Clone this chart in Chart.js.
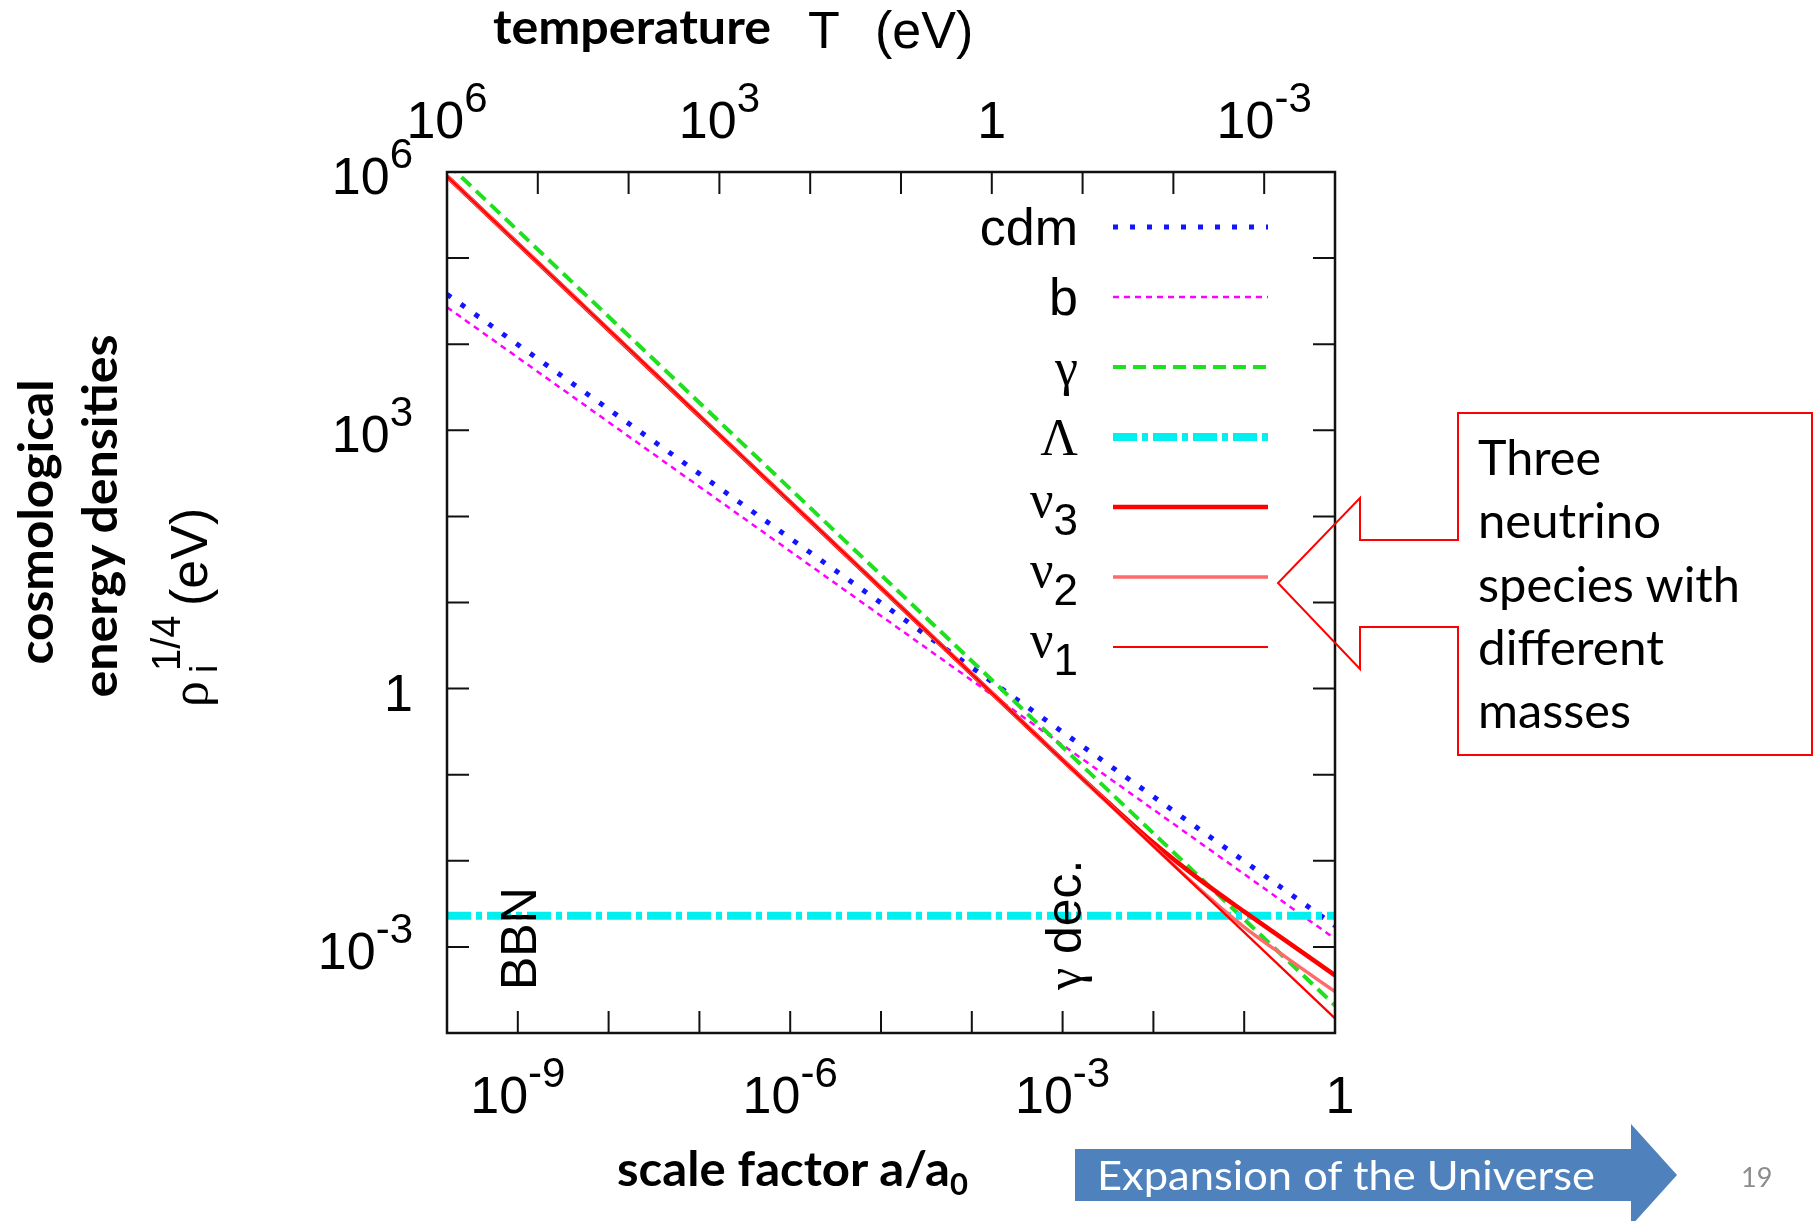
<!DOCTYPE html>
<html>
    <head>
        <title>Cosmological energy densities</title>
        <meta charset="UTF-8">
        <script src="https://cdn.jsdelivr.net/npm/chart.js@4.4.1/dist/chart.umd.min.js"></script>
        <style>
            body { margin: 0; background: #fff; }
            #page { position: relative; width: 1820px; height: 1221px; overflow: hidden; }
            #densityChart, #overlay { position: absolute; left: 0; top: 0; }
        </style>
    </head>
    <body>
        <div id="page">
            <canvas id="densityChart" width="1820" height="1221"></canvas>
            <svg id="overlay" width="1820" height="1221">
                <!-- top axis title -->
                <text x="493" y="44" font-family="Lato" font-weight="700" font-size="47" textLength="278" lengthAdjust="spacingAndGlyphs">temperature</text>
                <text x="808" y="48" font-family="Liberation Sans" font-size="52">T</text>
                <text x="875" y="48" font-family="Liberation Sans" font-size="52">(eV)</text>

                <!-- left axis title -->
                <text transform="translate(53,522) rotate(-90)" text-anchor="middle" font-family="Lato" font-weight="700" font-size="47" textLength="285" lengthAdjust="spacingAndGlyphs">cosmological</text>
                <text transform="translate(117,516) rotate(-90)" text-anchor="middle" font-family="Lato" font-weight="700" font-size="47" textLength="363" lengthAdjust="spacingAndGlyphs">energy densities</text>
                <text transform="translate(207,707) rotate(-90)" font-family="Liberation Sans" font-size="52">
                    <tspan x="0" y="0" font-family="Liberation Serif">ρ</tspan><tspan x="34" y="10" font-size="38">i</tspan><tspan x="36" y="-27" font-size="40">1/4</tspan><tspan x="101" y="0">(eV)</tspan>
                </text>

                <!-- bottom axis title -->
                <text x="617" y="1186" font-family="Lato" font-weight="700" font-size="47"><tspan textLength="333" lengthAdjust="spacingAndGlyphs">scale factor a/a</tspan><tspan font-size="31" dy="9">0</tspan></text>

                <!-- expansion arrow -->
                <polygon points="1075,1149 1631,1149 1631,1124 1677,1175 1631,1226 1631,1201 1075,1201" fill="#4f81bd"/>
                <text x="1097" y="1190" font-family="Lato" font-size="41" fill="#fff" textLength="498" lengthAdjust="spacingAndGlyphs">Expansion of the Universe</text>
                <text x="1741" y="1187" font-family="Lato" font-size="27" fill="#8c8c8c">19</text>

                <!-- neutrino callout -->
                <polygon points="1458,413 1812,413 1812,755 1458,755 1458,627 1360,627 1360,669 1278,583 1360,498 1360,540 1458,540" fill="none" stroke="#ff0000" stroke-width="2"/>
                <g font-family="Lato" font-size="48">
                    <text x="1478" y="475" textLength="123" lengthAdjust="spacingAndGlyphs">Three</text>
                    <text x="1478" y="538" textLength="183" lengthAdjust="spacingAndGlyphs">neutrino</text>
                    <text x="1478" y="602" textLength="262" lengthAdjust="spacingAndGlyphs">species with</text>
                    <text x="1478" y="665" textLength="186" lengthAdjust="spacingAndGlyphs">different</text>
                    <text x="1478" y="728" textLength="153" lengthAdjust="spacingAndGlyphs">masses</text>
                </g>
            </svg>
        </div>

        <script>
            // scale factor a/a0 at the plot edges and along the neutrino curves
            var aEdges = [1.66e-10, 1];
            var aNu = [1.66e-10, 1e-3, 3.16e-3, 1e-2, 3.16e-2, 0.1, 0.316, 1];

            // rho_i^(1/4) in eV
            var cdmRho = [3.8e4, 1.76e-3];
            var baryonRho = [2.69e4, 1.245e-3];
            var photonRho = [1.26e6, 2.09e-4];
            var lambdaRho = [2.3e-3, 2.3e-3];
            var nu3Rho = [8.91e5, 0.148, 0.0479, 0.0162, 0.00617, 0.00257, 0.00110, 4.68e-4];
            var nu2Rho = [8.91e5, 0.148, 0.0468, 0.0148, 0.00479, 0.00170, 7.08e-4, 3.02e-4];
            var nu1Rho = [8.91e5, 1.48e-4];

            var seriesNames = ['cdm', 'b', 'γ', 'Λ', 'ν3', 'ν2', 'ν1'];

            // axes
            var rhoRange = [1e-4, 1e6];
            var tempRange = [1.66e-4, 1e6];
            var rhoTicks = [1e-4, 1e-3, 1e-2, 1e-1, 1, 1e1, 1e2, 1e3, 1e4, 1e5, 1e6];
            var rhoLabels = [1e-3, 1, 1e3, 1e6];
            var aTicks = [1e-9, 1e-8, 1e-7, 1e-6, 1e-5, 1e-4, 1e-3, 1e-2, 1e-1, 1];
            var aLabels = [1e-9, 1e-6, 1e-3, 1];
            var tempTicks = [1e6, 1e5, 1e4, 1e3, 1e2, 1e1, 1, 1e-1, 1e-2, 1e-3];
            var tempLabels = [1e6, 1e3, 1, 1e-3];

            // events marked inside the plot
            var eventNames = ['BBN', 'γ dec.'];
            var eventScale = [1e-9, 1e-3];

            var SANS = '"Liberation Sans"';
            var SERIF = '"Liberation Serif"';

            function points(xs, ys) {
                return xs.map(function (x, i) {
                    return {x: x, y: ys[i]};
                });
            }

            function drawPower(ctx, value, x, y, align) {
                var e = Math.round(Math.log10(value));
                var base = e === 0 ? '1' : '10';
                var sup = e === 0 ? '' : String(e);
                ctx.font = '52px ' + SANS;
                var wBase = ctx.measureText(base).width;
                ctx.font = '42px ' + SANS;
                var wSup = sup ? ctx.measureText(sup).width : 0;
                var x0 = align === 'right' ? x - wBase - wSup : x - (wBase + wSup) / 2;
                ctx.font = '52px ' + SANS;
                ctx.fillText(base, x0, y);
                if (sup) {
                    ctx.font = '42px ' + SANS;
                    ctx.fillText(sup, x0 + wBase, y - 26);
                }
            }

            function drawLegendLabel(ctx, name, xRight, yMid) {
                var greek = /[γΛν]/.test(name.charAt(0));
                var sub = greek && name.length > 1 ? name.slice(1) : '';
                var head = sub ? name.charAt(0) : name;
                ctx.font = '44px ' + SANS;
                var wSub = sub ? ctx.measureText(sub).width : 0;
                ctx.font = '52px ' + (greek ? SERIF : SANS);
                var wHead = ctx.measureText(head).width;
                if (sub) {
                    ctx.fillText(head, xRight - wSub - wHead, yMid + 10);
                    ctx.font = '44px ' + SANS;
                    ctx.fillText(sub, xRight - wSub, yMid + 28);
                } else {
                    ctx.fillText(head, xRight - wHead, yMid + 18);
                }
            }

            // gnuplot look: frame, inward ticks, exponent labels, key and event labels
            var gnuplotFrame = {
                id: 'gnuplotFrame',
                afterDatasetsDraw: function (chart) {
                    var ctx = chart.ctx;
                    var area = chart.chartArea;
                    var xs = chart.scales.x, ys = chart.scales.y, ts = chart.scales.xT;
                    ctx.save();
                    ctx.strokeStyle = '#111';
                    ctx.fillStyle = '#000';
                    ctx.lineWidth = 2;
                    ctx.setLineDash([]);
                    ctx.beginPath();
                    rhoTicks.forEach(function (v) {
                        var py = ys.getPixelForValue(v);
                        ctx.moveTo(area.left, py);
                        ctx.lineTo(area.left + 22, py);
                        ctx.moveTo(area.right, py);
                        ctx.lineTo(area.right - 22, py);
                    });
                    aTicks.forEach(function (v) {
                        var px = xs.getPixelForValue(v);
                        ctx.moveTo(px, area.bottom);
                        ctx.lineTo(px, area.bottom - 22);
                    });
                    tempTicks.forEach(function (v) {
                        var px = ts.getPixelForValue(v);
                        ctx.moveTo(px, area.top);
                        ctx.lineTo(px, area.top + 22);
                    });
                    ctx.stroke();
                    ctx.lineWidth = 2.5;
                    ctx.strokeRect(area.left, area.top, area.right - area.left, area.bottom - area.top);

                    ctx.textBaseline = 'alphabetic';
                    ctx.textAlign = 'left';
                    rhoLabels.forEach(function (v) {
                        drawPower(ctx, v, area.left - 34, ys.getPixelForValue(v) + 22, 'right');
                    });
                    aLabels.forEach(function (v) {
                        drawPower(ctx, v, xs.getPixelForValue(v) + (v === 1 ? 5 : 0), area.bottom + 80, 'center');
                    });
                    tempLabels.forEach(function (v) {
                        drawPower(ctx, v, ts.getPixelForValue(v), area.top - 34, 'center');
                    });

                    // key
                    chart.data.datasets.forEach(function (ds, i) {
                        var cy = area.top + 55 + i * 70;
                        ctx.save();
                        ctx.strokeStyle = ds.borderColor;
                        ctx.lineWidth = ds.borderWidth;
                        ctx.setLineDash(ds.borderDash || []);
                        ctx.beginPath();
                        ctx.moveTo(area.right - 222, cy);
                        ctx.lineTo(area.right - 67, cy);
                        ctx.stroke();
                        ctx.restore();
                        drawLegendLabel(ctx, ds.label, area.right - 257, cy);
                    });

                    // BBN, photon decoupling
                    eventNames.forEach(function (name, i) {
                        ctx.save();
                        ctx.translate(xs.getPixelForValue(eventScale[i]) + 18, area.bottom - 43);
                        ctx.rotate(-Math.PI / 2);
                        var x = 0;
                        if (name.charAt(0) === 'γ') {
                            ctx.font = '50px ' + SERIF;
                            ctx.fillText('γ', 0, 0);
                            x = ctx.measureText('γ').width;
                            name = name.slice(1);
                        }
                        ctx.font = '50px ' + SANS;
                        ctx.fillText(name, x, 0);
                        ctx.restore();
                    });
                    ctx.restore();
                }
            };

            function series(i, xs, ys, color, width, dash, order) {
                return {
                    label: seriesNames[i],
                    data: points(xs, ys),
                    xAxisID: 'x',
                    yAxisID: 'y',
                    borderColor: color,
                    borderWidth: width,
                    borderDash: dash,
                    pointRadius: 0,
                    fill: false,
                    cubicInterpolationMode: 'monotone',
                    clip: 0,
                    order: order
                };
            }

            var datasets = [
                series(0, aEdges, cdmRho, '#1414ff', 5, [5, 12], 7),
                series(1, aEdges, baryonRho, '#ff00ff', 2.5, [6, 5], 6),
                series(2, aEdges, photonRho, '#1fe01f', 4, [13, 7], 5),
                series(3, aEdges, lambdaRho, '#00f0f0', 8, [24, 5, 6, 5], 4),
                series(4, aNu, nu3Rho, '#ff0000', 4.5, [], 3),
                series(5, aNu, nu2Rho, '#ff6a6a', 3.5, [], 2),
                series(6, aEdges, nu1Rho, '#ff0000', 2.2, [], 1)
            ];

            new Chart(document.getElementById('densityChart'), {
                type: 'line',
                data: {datasets: datasets},
                options: {
                    responsive: false,
                    animation: false,
                    events: [],
                    layout: {padding: {left: 447, top: 172, right: 485, bottom: 188}},
                    plugins: {legend: {display: false}, tooltip: {enabled: false}},
                    scales: {
                        x: {type: 'logarithmic', display: false, min: aEdges[0], max: aEdges[1]},
                        y: {type: 'logarithmic', display: false, min: rhoRange[0], max: rhoRange[1]},
                        xT: {type: 'logarithmic', axis: 'x', position: 'top', display: false, reverse: true,
                            min: tempRange[0], max: tempRange[1]}
                    }
                },
                plugins: [gnuplotFrame]
            });
        </script>
    </body>
</html>
